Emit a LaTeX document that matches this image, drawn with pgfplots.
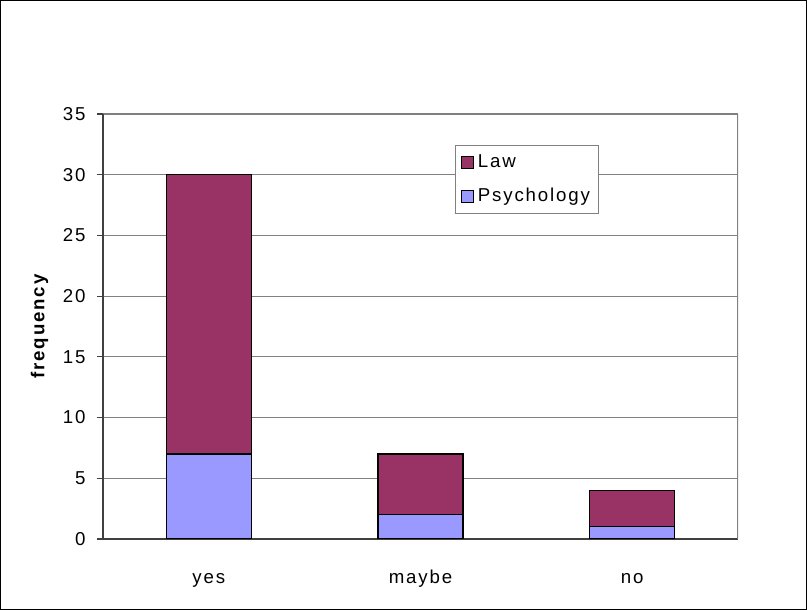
\documentclass[border=0pt]{standalone}
\usepackage{pgfplots}
\pgfplotsset{compat=1.18}
\usepackage{fontspec}
\setmainfont[LetterSpace=10]{Liberation Sans}
\definecolor{law}{HTML}{993366}
\definecolor{psy}{HTML}{9999FF}
\definecolor{gridc}{HTML}{808080}
\begin{document}
\begin{tikzpicture}[font=\fontsize{14}{17}\selectfont]
\useasboundingbox (0,0) rectangle (605.25pt,457.5pt);
\draw[black,line width=0.9pt] (0.4pt,0.4pt) rectangle (604.85pt,457.1pt);
\begin{axis}[
  at={(77.25pt,53.25pt)}, anchor=south west,
  scale only axis, width=476.25pt, height=318.75pt,
  ybar stacked, bar width=63.75pt,
  xmin=-0.5, xmax=2.5, ymin=0, ymax=35,
  ytick={0,5,...,35},
  xtick={0,1,2}, xticklabels={yes,maybe,no},
  x tick style={draw=none},
  extra x ticks={-0.5,0.5,1.5,2.5}, extra x tick labels={},
  extra x tick style={major tick length=5.5pt, tick style={draw=black!75,line width=0.8pt}, grid=none},
  tick align=outside, major tick length=4.5pt,
  y tick style={draw=black!75,line width=0.8pt},
  axis x line*=bottom, axis y line*=left,
  axis line style={draw=black!75,line width=1pt,-},
  ymajorgrids, grid style={draw=gridc,line width=0.9pt},
  /pgf/number format/assume math mode=true,
  yticklabel style={xshift=-5pt},
  xticklabel style={anchor=base, yshift=-29pt},
  ylabel={\bfseries frequency},
  ylabel style={at={(rel axis cs:0,0.5)}, anchor=center, yshift=47.5pt},
  legend style={at={(0.555,0.927)}, anchor=north west, draw=gridc, line width=0.8pt,
    row sep=10pt, inner xsep=4pt, inner ysep=5pt, cells={anchor=west}},
  reverse legend,
  legend image code/.code={\path[draw=none,fill=none] (0pt,0pt) -- (10pt,0pt);\draw[#1,draw=black,line width=0.8pt] (0pt,-4.5pt) rectangle (9pt,4.5pt);},
]
\addplot[fill=psy, draw=black, line width=0.9pt] coordinates {(0,7) (1,2) (2,1)};
\addplot[fill=law, draw=black, line width=0.9pt] coordinates {(0,23) (1,5) (2,3)};
\legend{Psychology, Law}
\draw[gridc,line width=0.9pt] (rel axis cs:1,0) -- (rel axis cs:1,1);
\end{axis}
\end{tikzpicture}
\end{document}
